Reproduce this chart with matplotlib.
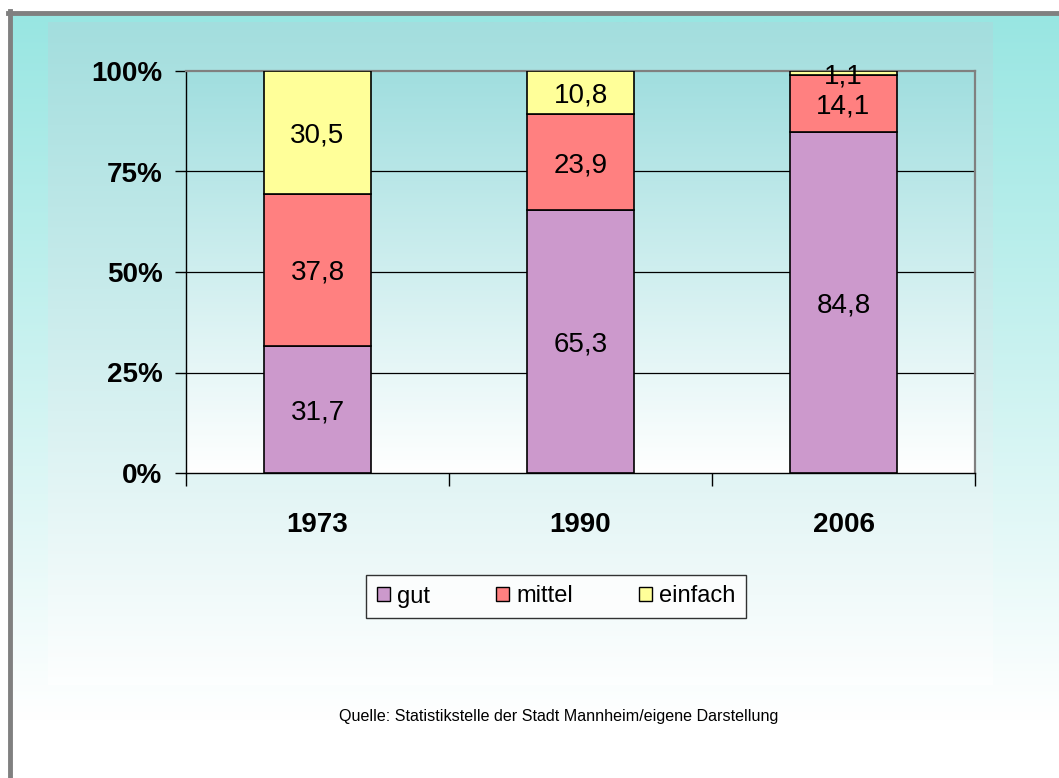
import numpy as np
import matplotlib
matplotlib.use("Agg")
import matplotlib.pyplot as plt
from matplotlib.patches import Patch
from matplotlib.lines import Line2D

# ---- data ----
years = ["1973", "1990", "2006"]
gut = [31.7, 65.3, 84.8]
mittel = [37.8, 23.9, 14.1]
einfach = [30.5, 10.8, 1.1]
series_names = ["gut", "mittel", "einfach"]
series_colors = ["#cc99cc", "#ff8080", "#ffff99"]
yticks = [0, 25, 50, 75, 100]
ytick_labels = ["0%", "25%", "50%", "75%", "100%"]
source = "Quelle: Statistikstelle der Stadt Mannheim/eigene Darstellung"

plt.rcParams['font.family'] = ['Liberation Sans', 'DejaVu Sans']

W, H = 1059, 778
fig = plt.figure(figsize=(W / 100, H / 100), dpi=100)
fig.patch.set_facecolor("white")


def vgrad(top, frac_white, n=400):
    t = np.clip(np.linspace(0, 1, n) / frac_white, 0, 1)
    top = np.array(matplotlib.colors.to_rgb(top))
    cols = top[None, :] * (1 - t[:, None]) + np.ones(3)[None, :] * t[:, None]
    return cols[:, None, :]


# ---- background ----
bg = fig.add_axes([0, 0, 1, 1], zorder=-10)
bg.axis("off")
bg.imshow(vgrad("#98e6e2", (720 - 14) / (H - 14)), extent=[12, W, H, 14],
          aspect="auto", interpolation="bilinear")
bg.imshow(vgrad("#a3dede", 1.02), extent=[48, 993, 685, 22], aspect="auto",
          interpolation="bilinear")
bg.add_line(Line2D([8, W], [12.5, 12.5], color="#808080", lw=3.5))
bg.add_line(Line2D([10, 10], [11, H], color="#808080", lw=3.5))
bg.set_xlim(0, W)
bg.set_ylim(H, 0)

# ---- main chart ----
ax = fig.add_axes([186 / W, (H - 473) / H, 789 / W, 402 / H])
ax.patch.set_alpha(0)
ax.imshow(vgrad("#a0dedf", 1.0), extent=[-0.5, len(years) - 0.5, 0, 100],
          aspect="auto", interpolation="bilinear", zorder=0)
x = np.arange(len(years))
bw = 0.407
bottoms = np.zeros(len(years))
for vals, name, col in zip([gut, mittel, einfach], series_names, series_colors):
    ax.bar(x, vals, bw, bottom=bottoms, color=col, edgecolor="black",
           linewidth=1.2, label=name, zorder=3)
    for xi, v, b in zip(x, vals, bottoms):
        ax.annotate(f"{v:.1f}".replace(".", ","), (xi, b + v / 2),
                    xytext=(0, -2.2), textcoords="offset points",
                    ha="center", va="center", fontsize=20, zorder=5)
    bottoms = bottoms + np.array(vals)

ax.set_xlim(-0.5, len(years) - 0.5)
ax.set_ylim(0, 100)
ax.set_yticks(yticks)
ax.set_yticklabels(ytick_labels, fontsize=20, fontweight="bold")
for yv in yticks[1:-1]:
    ax.axhline(yv, color="black", lw=0.9, zorder=1)
ax.set_xticks(np.arange(-0.5, len(years), 1.0))
ax.set_xticklabels([])
ax.set_xticks(x, minor=True)
ax.set_xticklabels(years, minor=True, fontsize=20, fontweight="bold")
ax.tick_params(axis="x", which="minor", length=0, pad=28)
ax.tick_params(axis="x", which="major", length=9, width=1, direction="out")
ax.tick_params(axis="y", length=8, width=1, direction="out", pad=9)
for s in ["left", "bottom"]:
    ax.spines[s].set_color("black")
    ax.spines[s].set_linewidth(1)
for s in ["top", "right"]:
    ax.spines[s].set_color("#808080")
    ax.spines[s].set_linewidth(1.6)

handles = [Patch(facecolor=c, edgecolor="black", linewidth=1) for c in series_colors]
leg = fig.legend(handles, series_names, loc="center", ncol=3,
                 bbox_to_anchor=(556 / W, (H - 596.5) / H), fontsize=17,
                 frameon=True, fancybox=False, edgecolor="black",
                 handlelength=0.55, handleheight=0.55, handletextpad=0.3,
                 columnspacing=2.8, borderpad=0.45)
leg.get_frame().set_linewidth(1)
leg.get_frame().set_facecolor("white")

fig.text(559 / W, 1 - 717 / H, source, ha="center", va="center", fontsize=11.6)

fig.savefig("out.png", dpi=100, facecolor="white")
